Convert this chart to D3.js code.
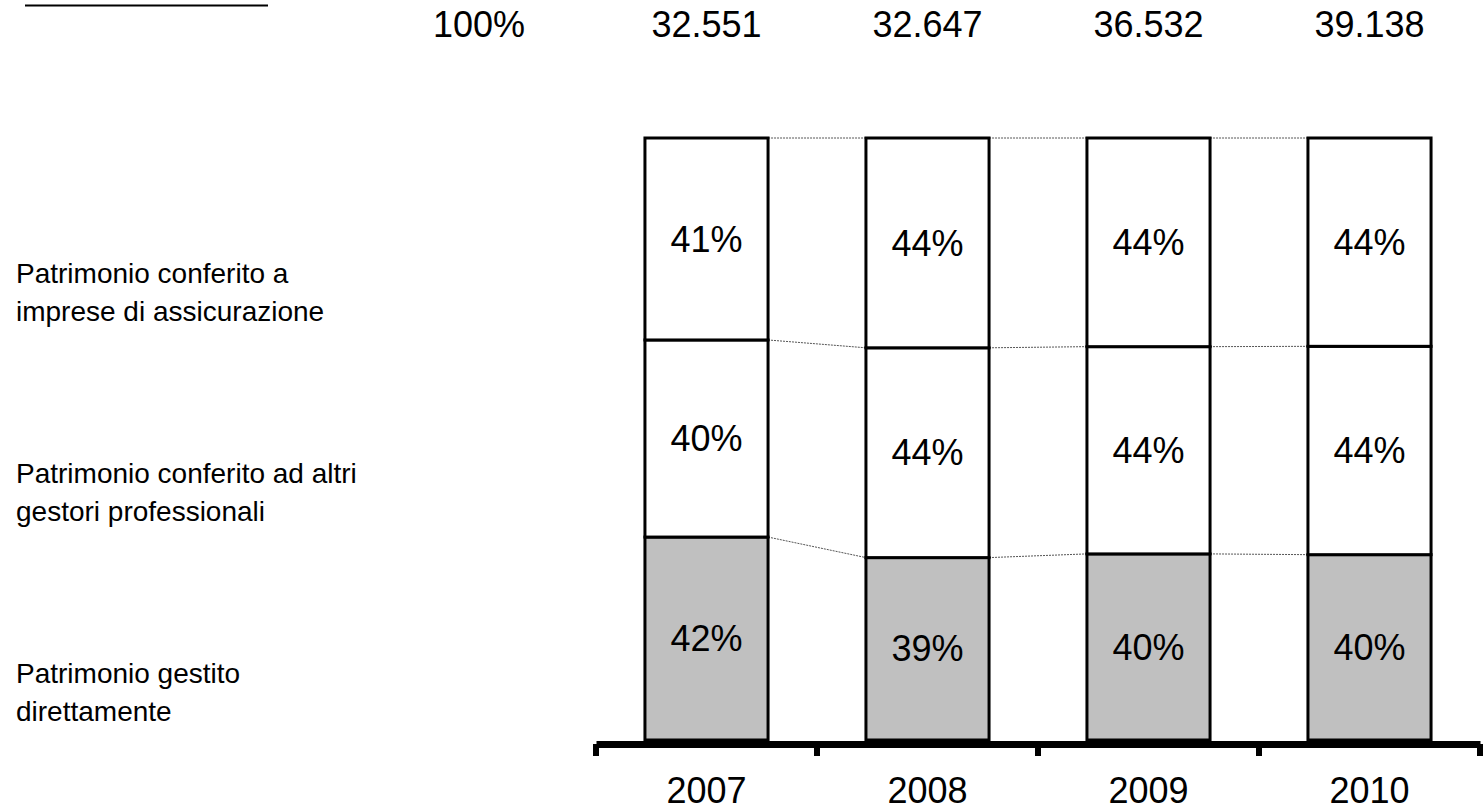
<!DOCTYPE html>
<html>
<head>
<meta charset="utf-8">
<script src="https://cdn.jsdelivr.net/npm/d3@7"></script>
<style>
  body { margin: 0; background: #fff; }
  text { font-family: "Liberation Sans", Arial, sans-serif; fill: #000; }
</style>
</head>
<body>
<div id="chart"></div>
<script>
// data
const years = ["2007", "2008", "2009", "2010"];
const totals = [32551, 32647, 36532, 39138];
const totalLabel = "100%";
const seriesNames = [
    ["Patrimonio gestito", "direttamente"],
    ["Patrimonio conferito ad altri", "gestori professionali"],
    ["Patrimonio conferito a", "imprese di assicurazione"]
];
const gestitoDirettamente = [41.6, 38.6, 39.6, 39.5];
const altriGestori = [40.4, 44.4, 44.1, 44.4];
const assicurazioni = [41.4, 44.4, 44.4, 44.4];

const seriesValues = [gestitoDirettamente, altriGestori, assicurazioni];
const fills = ["#c0c0c0", "#fff", "#fff"];

const width = 1484, height = 810;
const itFormat = d3.formatLocale({ decimal: ",", thousands: ".", grouping: [3], currency: ["€", ""] }).format(",d");

const svg = d3.select("#chart").append("svg")
    .attr("width", width)
    .attr("height", height);

const x = d3.scaleBand()
    .domain(years)
    .range([596, 1480])
    .paddingInner(0.443)
    .paddingOuter(0.2215);

const y = d3.scaleLinear()
    .domain([0, 1])
    .range([740, 138]);

// normalise each year's values into stacked shares
const rows = years.map((yr, i) => {
    const row = { year: yr };
    seriesValues.forEach((s, k) => row["s" + k] = s[i]);
    return row;
});
const keys = seriesValues.map((s, k) => "s" + k);
const stack = d3.stack().keys(keys).offset(d3.stackOffsetExpand);
const layers = stack(rows);

// dotted connectors between bars
const conn = svg.append("g");
layers.forEach(layer => {
    for (let i = 0; i < years.length - 1; i++) {
        conn.append("line")
            .attr("x1", x(years[i]) + x.bandwidth())
            .attr("x2", x(years[i + 1]))
            .attr("y1", y(layer[i][1]))
            .attr("y2", y(layer[i + 1][1]))
            .attr("stroke", "#555")
            .attr("stroke-width", 1)
            .attr("stroke-dasharray", "2,1");
    }
});

// bars
layers.forEach((layer, k) => {
    const g = svg.append("g");
    g.selectAll("rect")
        .data(layer)
        .join("rect")
        .attr("x", d => x(d.data.year))
        .attr("width", x.bandwidth())
        .attr("y", d => y(d[1]))
        .attr("height", d => y(d[0]) - y(d[1]))
        .attr("fill", fills[k])
        .attr("stroke", "#000")
        .attr("stroke-width", 3);

    g.selectAll("text")
        .data(layer)
        .join("text")
        .attr("x", d => x(d.data.year) + x.bandwidth() / 2)
        .attr("y", d => (y(d[0]) + y(d[1])) / 2)
        .attr("dy", "0.35em")
        .attr("text-anchor", "middle")
        .style("font-size", "36px")
        .text(d => Math.round(d.data[layer.key]) + "%");
});

// x axis
const axis = svg.append("g")
    .attr("transform", "translate(0, 744)")
    .call(d3.axisBottom(x).tickSize(0).tickFormat(""));
axis.select(".domain")
    .attr("stroke", "#000")
    .attr("stroke-width", 7);
axis.selectAll(".tick").remove();

// tick marks at band edges
const edges = years.map(yr => x(yr) - x.step() * x.paddingInner() / 2);
edges.push(x.range()[1]);
svg.append("g").selectAll("line")
    .data(edges)
    .join("line")
    .attr("x1", d => d)
    .attr("x2", d => d)
    .attr("y1", 744)
    .attr("y2", 756)
    .attr("stroke", "#000")
    .attr("stroke-width", 6);

// year labels
svg.append("g").selectAll("text")
    .data(years)
    .join("text")
    .attr("x", d => x(d) + x.bandwidth() / 2)
    .attr("y", 803)
    .attr("text-anchor", "middle")
    .style("font-size", "36px")
    .text(d => d);

// totals row
svg.append("line")
    .attr("x1", 25).attr("x2", 268)
    .attr("y1", 5.5).attr("y2", 5.5)
    .attr("stroke", "#000")
    .attr("stroke-width", 2);

svg.append("text")
    .attr("x", 433)
    .attr("y", 37)
    .style("font-size", "36px")
    .text(totalLabel);

svg.append("g").selectAll("text")
    .data(totals)
    .join("text")
    .attr("x", (d, i) => x(years[i]) + x.bandwidth() / 2)
    .attr("y", 37)
    .attr("text-anchor", "middle")
    .style("font-size", "36px")
    .text(d => itFormat(d));

// series labels on the left, next to the segments of the first bar
seriesNames.forEach((lines, k) => {
    const seg = layers[k][0];
    const mid = (y(seg[0]) + y(seg[1])) / 2;
    const t = svg.append("text")
        .attr("x", 16)
        .attr("y", mid + 44)
        .style("font-size", "28px");
    lines.forEach((ln, j) => {
        t.append("tspan")
            .attr("x", 16)
            .attr("dy", j === 0 ? 0 : 38)
            .text(ln);
    });
});
</script>
</body>
</html>
